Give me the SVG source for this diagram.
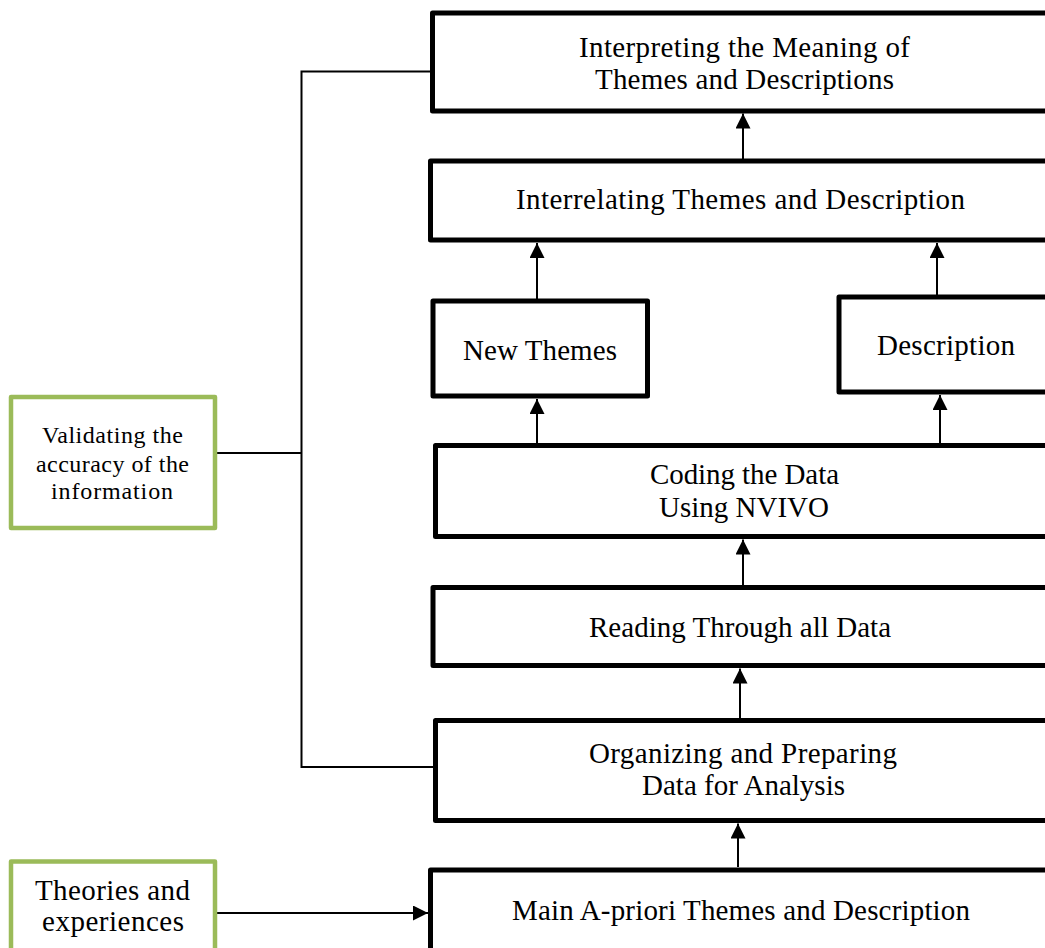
<svg xmlns="http://www.w3.org/2000/svg" width="1045" height="948" viewBox="0 0 1045 948">
  <style>
    .step { fill: #ffffff; stroke: #000000; stroke-width: 5; stroke-linejoin: round; }
    .input { fill: #ffffff; stroke: #9bbb59; stroke-width: 4.5; stroke-linejoin: round; }
    .label { font-family: "Liberation Serif", "Times New Roman", serif; font-size: 29px; fill: #000000; }
    .small { font-family: "Liberation Serif", "Times New Roman", serif; font-size: 24px; fill: #000000; }
    .wire { fill: none; stroke: #000000; stroke-width: 2; }
    .flow { fill: none; stroke: #000000; stroke-width: 2; marker-end: url(#head); }
  </style>
  <defs>
    <marker id="head" markerUnits="userSpaceOnUse" markerWidth="15" markerHeight="15" refX="15" refY="7.5" orient="auto">
      <path d="M0,0 L15,7.5 L0,15 Z" fill="#000000"/>
    </marker>
  </defs>
  <rect x="0" y="0" width="1045" height="948" fill="#ffffff"/>

  <!-- connectors -->
  <g id="connectors">
    <path class="wire" d="M432,71.5 H301.5 V767 H433"/>
    <path class="wire" d="M215,453 H301.5"/>
    <path class="flow" d="M743,160 V113.5"/>
    <path class="flow" d="M537,299 V243"/>
    <path class="flow" d="M937,295 V243"/>
    <path class="flow" d="M537,443 V399"/>
    <path class="flow" d="M940,443 V395"/>
    <path class="flow" d="M743,585 V539.5"/>
    <path class="flow" d="M740,718 V668.5"/>
    <path class="flow" d="M738,867 V823.5"/>
    <path class="flow" d="M217,913 H428"/>
  </g>

  <!-- process steps -->
  <g id="interpreting">
    <rect class="step" x="432.5" y="13" width="630" height="98"/>
    <text class="label" x="579" y="57" textLength="331">Interpreting the Meaning of</text>
    <text class="label" x="595" y="89" textLength="299">Themes and Descriptions</text>
  </g>
  <g id="interrelating">
    <rect class="step" x="430.5" y="161" width="630" height="79"/>
    <text class="label" x="516" y="209" textLength="449">Interrelating Themes and Description</text>
  </g>
  <g id="new-themes">
    <rect class="step" x="433" y="301" width="214.5" height="95"/>
    <text class="label" x="463" y="360" textLength="154">New Themes</text>
  </g>
  <g id="description">
    <rect class="step" x="839" y="297" width="230" height="95"/>
    <text class="label" x="877" y="355" textLength="138">Description</text>
  </g>
  <g id="coding">
    <rect class="step" x="435.5" y="445.5" width="630" height="91"/>
    <text class="label" x="650" y="484" textLength="189">Coding the Data</text>
    <text class="label" x="744" y="517" font-size="27" text-anchor="middle">Using NVIVO</text>
  </g>
  <g id="reading">
    <rect class="step" x="433" y="587.5" width="630" height="78"/>
    <text class="label" x="589" y="637" textLength="302">Reading Through all Data</text>
  </g>
  <g id="organizing">
    <rect class="step" x="435.5" y="720.5" width="630" height="100"/>
    <text class="label" x="589" y="763" textLength="308">Organizing and Preparing</text>
    <text class="label" x="642" y="795" textLength="203">Data for Analysis</text>
  </g>
  <g id="main-apriori">
    <rect class="step" x="430.5" y="870" width="630" height="100"/>
    <text class="label" x="512" y="920" textLength="458">Main A-priori Themes and Description</text>
  </g>

  <!-- side inputs -->
  <g id="validating">
    <rect class="input" x="11" y="397" width="204" height="131"/>
    <text class="small" x="42" y="443" textLength="141">Validating the</text>
    <text class="small" x="36" y="472" textLength="153">accuracy of the</text>
    <text class="small" x="51" y="499" textLength="122">information</text>
  </g>
  <g id="theories">
    <rect class="input" x="11" y="861.5" width="204" height="100"/>
    <text class="label" x="35" y="900" textLength="155">Theories and</text>
    <text class="label" x="42" y="931" textLength="142">experiences</text>
  </g>
</svg>
